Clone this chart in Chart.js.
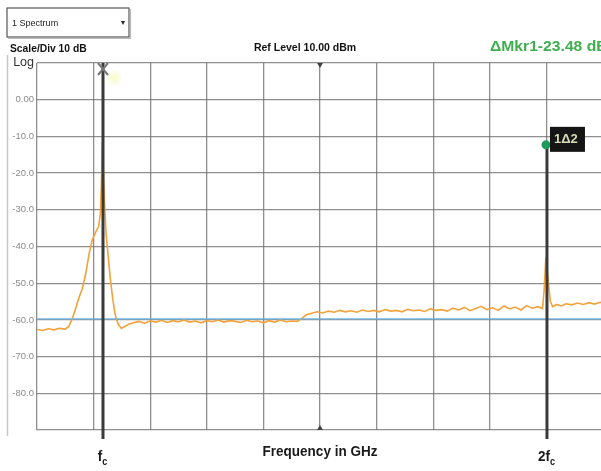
<!DOCTYPE html>
<html>
<head>
<meta charset="utf-8">
<script src="https://cdn.jsdelivr.net/npm/chart.js@4.4.1/dist/chart.umd.min.js"></script>
<style>
  html, body { margin:0; padding:0; background:#fff; }
  body { width:601px; height:471px; overflow:hidden; }
  canvas { display:block; }
</style>
</head>
<body>
<canvas id="sa" width="620" height="471"></canvas>
<script>
/* ===== data (x in screen divisions, y in dBm) ===== */
const yTicks = [10, 0, -10, -20, -30, -40, -50, -60, -70, -80, -90];
const traceFreq = [
  0.00, 0.10, 0.20, 0.30, 0.40, 0.50, 0.56, 0.62, 0.68, 0.74, 0.80, 0.86, 0.92, 0.98, 1.04, 1.09, 1.12, 1.14, 1.155,
  1.19, 1.22, 1.26, 1.30, 1.34, 1.38, 1.43, 1.49, 1.55, 1.62, 1.70, 1.80, 1.90, 2.00, 2.10, 2.20, 2.30, 2.40, 2.50,
  2.60, 2.70, 2.80, 2.90, 3.00, 3.10, 3.20, 3.30, 3.40, 3.50, 3.60, 3.70, 3.80, 3.90, 4.00, 4.10, 4.20, 4.30, 4.40,
  4.50, 4.60, 4.68, 4.76, 4.85, 4.95, 5.05, 5.15, 5.25, 5.35, 5.45, 5.55, 5.65, 5.75, 5.85, 5.95, 6.05, 6.15, 6.25,
  6.35, 6.45, 6.55, 6.65, 6.75, 6.85, 6.95, 7.05, 7.15, 7.25, 7.35, 7.45, 7.55, 7.65, 7.75, 7.85, 7.95, 8.05, 8.15,
  8.25, 8.35, 8.45, 8.55, 8.65, 8.75, 8.85, 8.93, 8.96, 8.99, 9.03, 9.07, 9.11, 9.18, 9.26, 9.35, 9.45, 9.55, 9.65,
  9.75, 9.85, 9.95, 10.00
];
const traceLevel = [
  -62.6, -62.9, -62.4, -62.7, -62.3, -62.5, -61.8, -59.8, -57.0, -54.0, -51.5, -47.5, -42.0, -38.0, -36.0, -34.5, -31.0, -22.0, -11.5,
  -27.0, -36.5, -43.0, -49.5, -54.5, -58.5, -61.0, -62.3, -61.8, -61.2, -60.8, -60.4, -60.9, -60.3, -60.6, -60.1, -60.7, -60.2, -60.5,
  -60.0, -60.6, -60.3, -60.8, -60.2, -60.5, -60.0, -60.6, -60.2, -60.4, -60.7, -60.1, -60.5, -60.3, -60.8, -60.2, -60.6, -60.0, -60.5,
  -60.3, -60.4, -59.6, -58.6, -58.2, -57.8, -58.1, -57.6, -57.9, -57.4, -57.8, -57.5, -57.9, -57.3, -57.7, -57.4, -57.8, -57.2, -57.6,
  -57.4, -57.8, -57.1, -57.5, -57.3, -57.7, -57.0, -57.4, -57.2, -57.6, -56.8, -57.3, -56.6, -57.5, -56.9, -56.3, -57.2, -56.7, -57.4,
  -56.2, -57.0, -56.5, -57.3, -56.1, -56.8, -56.4, -56.9, -52.0, -43.0, -49.0, -55.0, -56.4, -55.8, -56.2, -55.6, -55.9, -55.4, -55.8,
  -55.3, -55.7, -55.2, -55.4
];
const displayLineLevel = -59.7;
const markerFreq = [1.166, 9.01];      // fc, 2fc
const markerLevel = [10, -12.3];       // top end of each marker line
const markerNames = ['f', '2f'];

/* text with horizontal squeeze / stretch */
function wideText(ctx, txt, x, y, sx, align) {
  const w = ctx.measureText(txt).width * sx;
  let left = x;
  if (align === 'center') left = x - w / 2;
  if (align === 'right') left = x - w;
  ctx.save();
  ctx.textAlign = 'left';
  ctx.translate(left, y);
  ctx.scale(sx, 1);
  ctx.fillText(txt, 0, 0);
  ctx.restore();
}

/* ===== plugin: analyser decorations ===== */
const decor = {
  id: 'decor',
  afterDatasetsDraw(chart) {
    const {ctx, chartArea:a, scales:{x, y}} = chart;
    ctx.save();

    // left frame
    ctx.strokeStyle = '#c8c8c8'; ctx.lineWidth = 1.5;
    ctx.beginPath(); ctx.moveTo(7.5, 55); ctx.lineTo(7.5, 436); ctx.stroke();

    // centre triangles
    const cx = x.getPixelForValue(5);
    ctx.fillStyle = '#444';
    ctx.beginPath(); ctx.moveTo(cx-3, a.top); ctx.lineTo(cx+3, a.top); ctx.lineTo(cx, a.top+5); ctx.fill();
    ctx.beginPath(); ctx.moveTo(cx-3, a.bottom); ctx.lineTo(cx+3, a.bottom); ctx.lineTo(cx, a.bottom-5); ctx.fill();

    // marker lines
    markerFreq.forEach((f, i) => {
      const px = x.getPixelForValue(f);
      const top = y.getPixelForValue(markerLevel[i]);
      ctx.strokeStyle = '#3a3a3a'; ctx.lineWidth = 3;
      ctx.beginPath(); ctx.moveTo(px, top); ctx.lineTo(px, a.bottom + 9); ctx.stroke();
    });

    // marker 1 "X"
    const m1 = x.getPixelForValue(markerFreq[0]);
    const glow = ctx.createRadialGradient(m1 + 11, a.top + 15, 0, m1 + 11, a.top + 15, 9);
    glow.addColorStop(0, 'rgba(240,248,150,0.55)');
    glow.addColorStop(1, 'rgba(240,248,150,0)');
    ctx.fillStyle = glow;
    ctx.beginPath(); ctx.arc(m1 + 11, a.top + 15, 9, 0, Math.PI*2); ctx.fill();
    ctx.strokeStyle = '#777'; ctx.lineWidth = 2;
    ctx.beginPath();
    ctx.moveTo(m1-5, a.top); ctx.lineTo(m1+5, a.top+12);
    ctx.moveTo(m1+5, a.top); ctx.lineTo(m1-5, a.top+12);
    ctx.stroke();

    // marker 2 (delta) symbol + label
    const m2 = x.getPixelForValue(markerFreq[1]);
    const m2y = y.getPixelForValue(markerLevel[1]);
    ctx.fillStyle = '#1f9a5c';
    ctx.beginPath(); ctx.arc(m2 - 1, m2y, 4.5, 0, Math.PI*2); ctx.fill();
    ctx.fillStyle = '#151515';
    ctx.fillRect(m2 + 3, m2y - 18, 35, 25);
    ctx.fillStyle = '#d6dcb8';
    ctx.font = 'bold 13px "Liberation Sans"';
    ctx.textBaseline = 'middle'; ctx.textAlign = 'left';
    ctx.fillText('1\u03942', m2 + 7, m2y - 5);

    // header: dropdown
    ctx.strokeStyle = '#555'; ctx.lineWidth = 1.2;
    ctx.fillStyle = '#fff';
    ctx.fillRect(7, 8, 122, 29);
    ctx.strokeRect(7, 8, 122, 29);
    ctx.strokeStyle = '#bbb';
    ctx.beginPath(); ctx.moveTo(130.5, 9); ctx.lineTo(130.5, 38.5); ctx.lineTo(8, 38.5); ctx.stroke();
    ctx.fillStyle = '#222';
    ctx.font = '9.5px "Liberation Sans"';
    ctx.textBaseline = 'middle';
    wideText(ctx, '1 Spectrum', 12, 23, 0.95, 'left');
    ctx.font = '8px "DejaVu Sans"';
    ctx.fillText('\u25BE', 121, 23);

    // header texts
    ctx.font = 'bold 10.5px "Liberation Sans"';
    ctx.fillStyle = '#111';
    wideText(ctx, 'Scale/Div 10 dB', 10, 49, 0.98, 'left');
    wideText(ctx, 'Ref Level 10.00 dBm', 305, 48, 1.0, 'center');

    ctx.fillStyle = '#3fae4f';
    ctx.font = 'bold 14px "Liberation Sans"';
    wideText(ctx, '\u0394Mkr1-23.48 dB', 490, 47, 1.12, 'left');

    // bottom labels
    ctx.fillStyle = '#1a1a1a';
    ctx.textBaseline = 'alphabetic';
    ctx.font = 'bold 15px "Liberation Sans"';
    wideText(ctx, 'Frequency in GHz', 320, 456, 0.9, 'center');
    markerFreq.forEach((f, i) => {
      const px = x.getPixelForValue(f);
      ctx.font = 'bold 15px "Liberation Sans"';
      const main = markerNames[i];
      const w = ctx.measureText(main).width * 0.9;
      wideText(ctx, main, px - w/2 - 3, 461, 0.9, 'left');
      ctx.font = 'bold 10px "Liberation Sans"';
      wideText(ctx, 'c', px + w/2 - 3, 465, 0.9, 'left');
    });

    ctx.restore();
  }
};

/* ===== chart ===== */
new Chart(document.getElementById('sa'), {
  type: 'scatter',
  data: {
    datasets: [
      {
        label: 'display line',
        data: [{x:0, y:displayLineLevel}, {x:10, y:displayLineLevel}],
        showLine: true, borderColor: '#6fb6e6', borderWidth: 1.2, pointRadius: 0
      },
      {
        label: 'trace',
        data: traceFreq.map((f, i) => ({x: f, y: traceLevel[i]})),
        showLine: true, borderColor: '#f2a23c', borderWidth: 1.6, pointRadius: 0, tension: 0
      }
    ]
  },
  options: {
    responsive: false,
    animation: false,
    devicePixelRatio: 1,
    layout: { padding: { left: 0, top: 63, right: 17, bottom: 41 } },
    plugins: { legend: { display: false }, tooltip: { enabled: false } },
    scales: {
      x: {
        type: 'linear', min: 0, max: 10,
        ticks: { display: false, stepSize: 1 },
        grid: { color: 'rgba(105,105,105,0.75)', lineWidth: 1.3, drawTicks: false },
        border: { display: false },
        afterFit: s => { s.height = 0; }
      },
      y: {
        min: -90, max: 10,
        afterBuildTicks: s => { s.ticks = yTicks.map(v => ({value: v})); },
        ticks: {
          padding: 3,
          callback: v => v === 10 ? 'Log' : (v === -90 ? '' : (v === 0 ? '0.00' : v.toFixed(1))),
          color: c => c.tick && c.tick.value === 10 ? '#333' : '#8a8a8a',
          font: c => ({ family: '"Liberation Sans"', size: c.tick && c.tick.value === 10 ? 12.5 : 9.5 })
        },
        grid: { color: 'rgba(105,105,105,0.75)', lineWidth: 1.3, drawTicks: false },
        border: { display: false },
        afterFit: s => { s.width = 37; }
      }
    }
  },
  plugins: [decor]
});
</script>
</body>
</html>
